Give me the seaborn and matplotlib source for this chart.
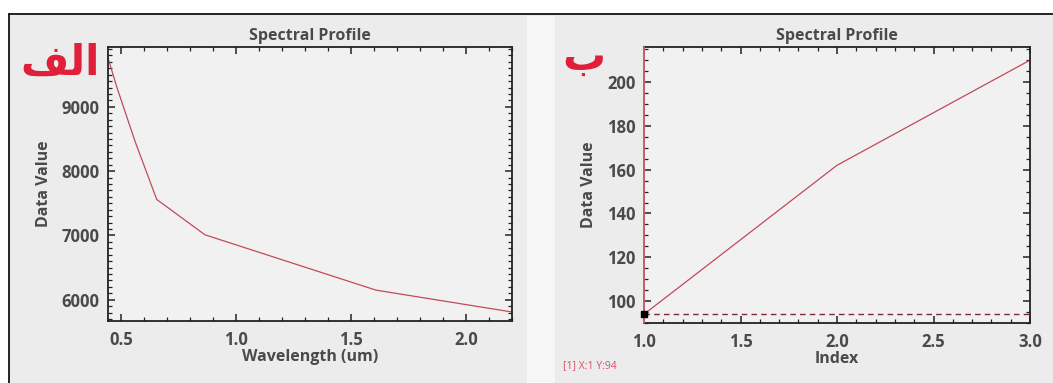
import numpy as np
import pandas as pd
import matplotlib
matplotlib.use("Agg")
import matplotlib.pyplot as plt
from matplotlib.lines import Line2D
from matplotlib.ticker import MultipleLocator
import seaborn as sns

# Panel A: spectral profile over band centre wavelengths
wavelength_um = [0.443, 0.482, 0.561, 0.655, 0.865, 1.609, 2.201]
data_value_a = [9760, 9300, 8460, 7560, 7010, 6150, 5810]

# Panel B: profile over band index
band_index = [1, 2, 3]
data_value_b = [94, 162, 210]
cursor_x, cursor_y = 1, 94

panel_labels = ["\uFED2\uFEDF\uFE8D", "\uFE8F"]   # الف , ب
title = "Spectral Profile"

sns.set_theme(style="ticks")
plt.rcParams["font.family"] = ["Open Sans", "DejaVu Sans"]

BG = "#ececec"
AX_BG = "#f1f1f1"
LINE = "#c24a5a"
TXT = "#4a4a4a"

fig = plt.figure(figsize=(10.53, 3.83), dpi=100)
fig.patch.set_facecolor(BG)

# white strip along the top and outer frame
fig.add_artist(plt.Rectangle((0, 1 - 14 / 383), 1, 14 / 383, transform=fig.transFigure,
                             facecolor="white", edgecolor="none", zorder=0))
fig.add_artist(plt.Rectangle((0, 0), 9 / 1053, 1, transform=fig.transFigure,
                             facecolor="white", edgecolor="none", zorder=0))
fig.add_artist(Line2D([9 / 1053, 1], [1 - 14 / 383] * 2, transform=fig.transFigure,
                      color="black", lw=1.2))
fig.add_artist(Line2D([9 / 1053] * 2, [0, 1 - 14 / 383], transform=fig.transFigure,
                      color="black", lw=1.2))
# light gap between the two panels
fig.add_artist(plt.Rectangle((527 / 1053, 0), 28 / 1053, 1 - 16 / 383, transform=fig.transFigure,
                             facecolor="#f6f6f6", edgecolor="none", zorder=0))

ax1 = fig.add_axes([108 / 1053, 62 / 383, 404 / 1053, 274 / 383])
ax2 = fig.add_axes([644 / 1053, 60 / 383, 386 / 1053, 276 / 383])

df_a = pd.DataFrame({"Wavelength (um)": wavelength_um, "Data Value": data_value_a})
df_b = pd.DataFrame({"Index": band_index, "Data Value": data_value_b})

sns.lineplot(data=df_a, x="Wavelength (um)", y="Data Value", ax=ax1,
             color=LINE, lw=0.9, sort=False)
sns.lineplot(data=df_b, x="Index", y="Data Value", ax=ax2,
             color=LINE, lw=0.9, sort=False)

ax2.axhline(cursor_y, color="#7a2a33", lw=1.0, ls=(0, (4, 3)), zorder=3)
ax2.axvline(cursor_x, color="#e06a7a", lw=1.2, zorder=4, clip_on=False)
ax2.plot([cursor_x], [cursor_y], marker="s", ms=5, color="black", zorder=5, clip_on=False)

ax1.set_xlim(0.443, 2.201)
ax1.set_ylim(5670, 9930)
ax2.set_xlim(1, 3)
ax2.set_ylim(90, 216)

ax1.xaxis.set_major_locator(MultipleLocator(0.5))
ax1.xaxis.set_minor_locator(MultipleLocator(0.1))
ax1.yaxis.set_major_locator(MultipleLocator(1000))
ax1.yaxis.set_minor_locator(MultipleLocator(100))
ax2.xaxis.set_major_locator(MultipleLocator(0.5))
ax2.xaxis.set_minor_locator(MultipleLocator(0.1))
ax2.yaxis.set_major_locator(MultipleLocator(20))
ax2.yaxis.set_minor_locator(MultipleLocator(5))

for ax in (ax1, ax2):
    ax.set_facecolor(AX_BG)
    for s in ax.spines.values():
        s.set_color("#222222")
        s.set_linewidth(1.3)
    ax.tick_params(which="both", direction="in", top=True, right=True,
                   colors="#222222", labelcolor=TXT, labelsize=12)
    ax.tick_params(axis="x", which="major", pad=7)
    ax.tick_params(axis="y", which="major", pad=6)
    ax.tick_params(which="major", length=5, width=1.1)
    ax.tick_params(which="minor", length=3, width=0.9)
    for lab in ax.get_xticklabels() + ax.get_yticklabels():
        lab.set_fontweight("bold")
    ax.set_title(title, fontsize=11.5, fontweight="bold", color=TXT, pad=5)
    for lbl in (ax.xaxis.label, ax.yaxis.label):
        lbl.set_fontsize(11.5)
        lbl.set_fontweight("bold")
        lbl.set_color(TXT)
    ax.xaxis.labelpad = 0
    ax.yaxis.labelpad = 7

fig.text(20 / 1053, 1 - 75 / 383, panel_labels[0], fontsize=30, fontweight="bold",
         color="#e0203a", family=["DejaVu Sans"], ha="left", va="baseline")
fig.text(562 / 1053, 1 - 70 / 383, panel_labels[1], fontsize=31, fontweight="bold",
         color="#e0203a", family=["DejaVu Sans"], ha="left", va="baseline")

fig.text(563 / 1053, 1 - 368 / 383, f"[1] X:{cursor_x} Y:{cursor_y}", fontsize=7.5,
         color="#d9506a", ha="left", va="baseline")

fig.savefig("out.png", dpi=100, facecolor=fig.get_facecolor())
